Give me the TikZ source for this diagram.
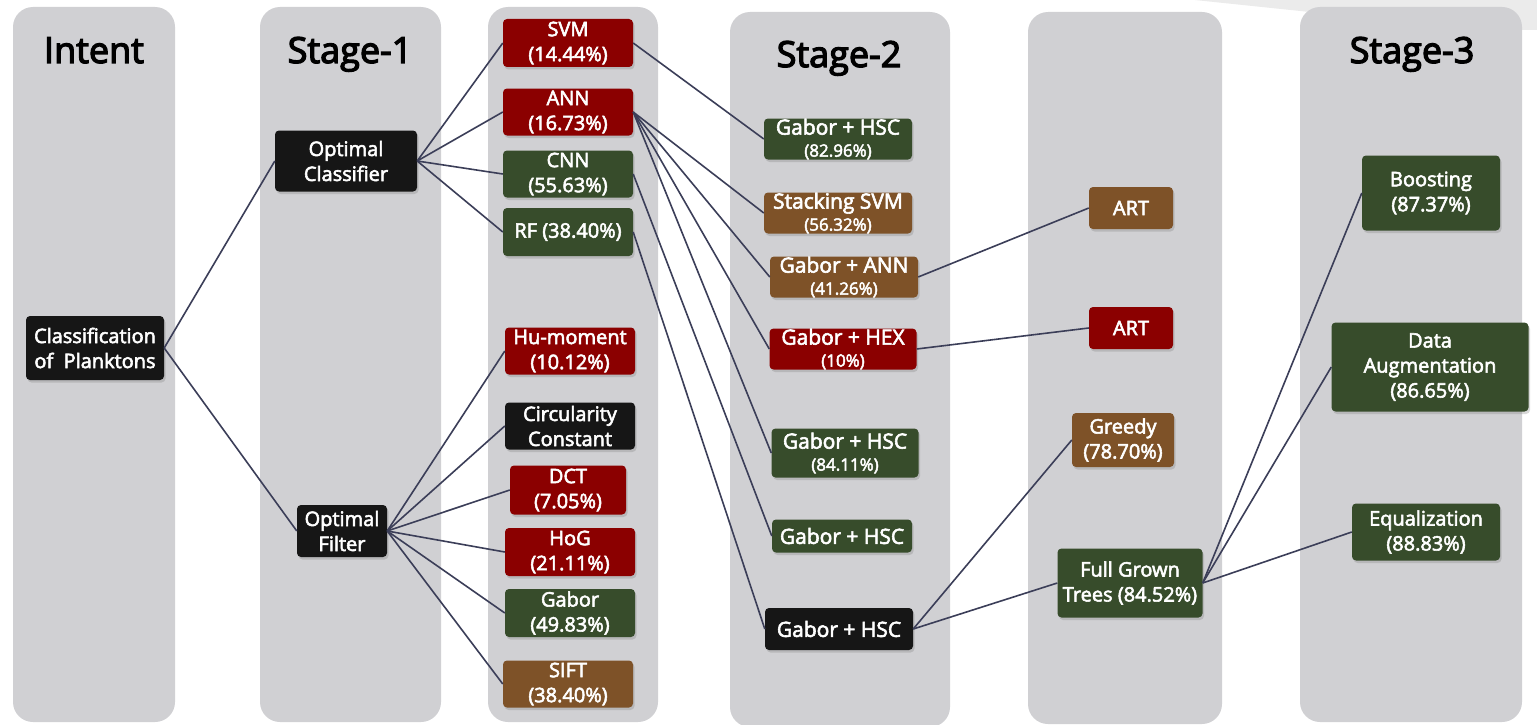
\documentclass[tikz,border=0pt]{standalone}
\usepackage{fontspec}
\setmainfont{Open Sans}
\newfontfamily\boxfont[FakeBold=2.8]{Open Sans}
\newfontfamily\titlefont[FakeBold=3.5]{Open Sans}
\usetikzlibrary{shadows}
\definecolor{cred}{HTML}{8B0000}
\definecolor{cgreen}{HTML}{374C2B}
\definecolor{cbrown}{HTML}{7E5228}
\definecolor{cblack}{HTML}{161616}
\definecolor{colgrey}{HTML}{D0D0D3}
\definecolor{wedgegrey}{HTML}{EBEBEB}
\definecolor{linkcol}{HTML}{3B3E58}
\tikzset{
  column/.style={fill=colgrey, rounded corners=20pt, draw=none},
  coltitle/.style={font=\titlefont\fontsize{36}{40}\selectfont, text=black, anchor=base, inner sep=0pt},
  box/.style={rounded corners=4pt, text=white, align=center, inner sep=0pt,
    font=\boxfont\fontsize{20}{25}\selectfont,
    drop shadow={shadow xshift=1.5pt, shadow yshift=-2.5pt, opacity=0.3}},
  sbox/.style={box, font=\boxfont\fontsize{21}{22}\selectfont},
  redbox/.style={box, fill=cred},
  greenbox/.style={box, fill=cgreen},
  brownbox/.style={box, fill=cbrown},
  blackbox/.style={box, fill=cblack},
  link/.style={draw=linkcol, line width=1.6pt},
}
\newcommand{\pct}[1]{{\fontsize{17}{22}\selectfont #1}}
\begin{document}
\begin{tikzpicture}[x=1pt,y=-1pt]
\useasboundingbox (0,0) rectangle (1537,725);
\fill[white] (0,0) rectangle (1537,725);
\fill[wedgegrey] (1195,0) -- (1537,0) -- (1537,30) -- (1310,30) -- (1310,12) -- cycle;
% columns
\fill[column] (13,7) rectangle (175,722);
\fill[column] (260,7) rectangle (441,722);
\fill[column] (488,7) rectangle (658,722);
\fill[column] (730,12) rectangle (950,727);
\fill[column] (1028,12) rectangle (1222,724);
\fill[column] (1300,7) rectangle (1522,722);
% titles
\node[coltitle] (tintent) at (94,63) {Intent};
\node[coltitle] (tstage1) at (350,63) {Stage-1};
\node[coltitle] (tstage2) at (839,67) {Stage-2};
\node[coltitle] (tstage3) at (1412,63) {Stage-3};
% intent
\node[blackbox, minimum width=138pt, minimum height=64pt] (cls) at (95,348) {Classification\\of\ \ Planktons};
% stage 1
\node[blackbox, minimum width=142pt, minimum height=61pt] (oc) at (346,161) {Optimal\\Classifier};
\node[blackbox, minimum width=90pt, minimum height=52pt] (of) at (342,531) {Optimal\\Filter};
% column 3
\node[redbox, minimum width=130pt, minimum height=48pt] (svm) at (568,43) {SVM\\(14.44\%)};
\node[redbox, minimum width=130pt, minimum height=47pt] (ann) at (568,112) {ANN\\(16.73\%)};
\node[greenbox, minimum width=130pt, minimum height=47pt] (cnn) at (568,174) {CNN\\(55.63\%)};
\node[greenbox, minimum width=130pt, minimum height=48pt] (rf) at (568,232) {RF (38.40\%)};
\node[redbox, minimum width=130pt, minimum height=47pt] (hu) at (570,351) {Hu-moment\\(10.12\%)};
\node[blackbox, minimum width=130pt, minimum height=47pt] (circ) at (570,426) {Circularity\\Constant};
\node[redbox, minimum width=116pt, minimum height=49pt] (dct) at (568,490) {DCT\\(7.05\%)};
\node[redbox, minimum width=130pt, minimum height=48pt] (hog) at (570,552) {HoG\\(21.11\%)};
\node[greenbox, minimum width=130pt, minimum height=48pt] (gab) at (570,613) {Gabor\\(49.83\%)};
\node[brownbox, minimum width=130pt, minimum height=47pt] (sift) at (568,684) {SIFT\\(38.40\%)};
% stage 2
\node[sbox, fill=cgreen, minimum width=148pt, minimum height=41pt] (ghsca) at (838,139) {Gabor + HSC\\\pct{(82.96\%)}};
\node[sbox, fill=cbrown, minimum width=148pt, minimum height=41pt] (stk) at (838,213) {Stacking SVM\\\pct{(56.32\%)}};
\node[sbox, fill=cbrown, minimum width=148pt, minimum height=41pt] (gann) at (844,277) {Gabor + ANN\\\pct{(41.26\%)}};
\node[sbox, fill=cred, minimum width=147pt, minimum height=41pt] (ghex) at (843,349) {Gabor + HEX\\\pct{(10\%)}};
\node[sbox, fill=cgreen, minimum width=147pt, minimum height=49pt] (ghscb) at (845,453) {Gabor + HSC\\\pct{(84.11\%)}};
\node[sbox, fill=cgreen, minimum width=140pt, minimum height=33pt] (ghscc) at (842,536) {Gabor + HSC};
\node[sbox, fill=cblack, minimum width=148pt, minimum height=42pt] (ghscd) at (839,629) {Gabor + HSC};
% column 5
\node[brownbox, minimum width=84pt, minimum height=42pt] (arta) at (1131,208) {ART};
\node[redbox, minimum width=84pt, minimum height=42pt] (artb) at (1131,328) {ART};
\node[brownbox, minimum width=102pt, minimum height=54pt] (greedy) at (1123,440) {Greedy\\(78.70\%)};
\node[greenbox, minimum width=145pt, minimum height=69pt] (fgt) at (1130,583) {Full Grown\\Trees (84.52\%)};
% stage 3
\node[greenbox, minimum width=138pt, minimum height=75pt] (boost) at (1431,193) {Boosting\\(87.37\%)};
\node[greenbox, minimum width=197pt, minimum height=89pt] (aug) at (1430,367) {Data\\Augmentation\\(86.65\%)};
\node[greenbox, minimum width=148pt, minimum height=57pt] (equ) at (1426,532) {Equalization\\(88.83\%)};
% connectors
\draw[link] (cls.east) -- (oc.west);
\draw[link] (cls.east) -- (of.west);
\foreach \t in {svm,ann,cnn,rf} \draw[link] (oc.east) -- (\t.west);
\foreach \t in {hu,circ,dct,hog,gab,sift} \draw[link] (of.east) -- (\t.west);
\draw[link] (svm.east) -- (ghsca.west);
\foreach \t in {stk,gann,ghex,ghscb} \draw[link] (ann.east) -- (\t.west);
\draw[link] (cnn.east) -- (ghscc.west);
\draw[link] (rf.east) -- (ghscd.west);
\draw[link] (gann.east) -- (arta.west);
\draw[link] (ghex.east) -- (artb.west);
\draw[link] (ghscd.east) -- (greedy.west);
\draw[link] (ghscd.east) -- (fgt.west);
\foreach \t in {boost,aug,equ} \draw[link] (fgt.east) -- (\t.west);
\end{tikzpicture}
\end{document}
